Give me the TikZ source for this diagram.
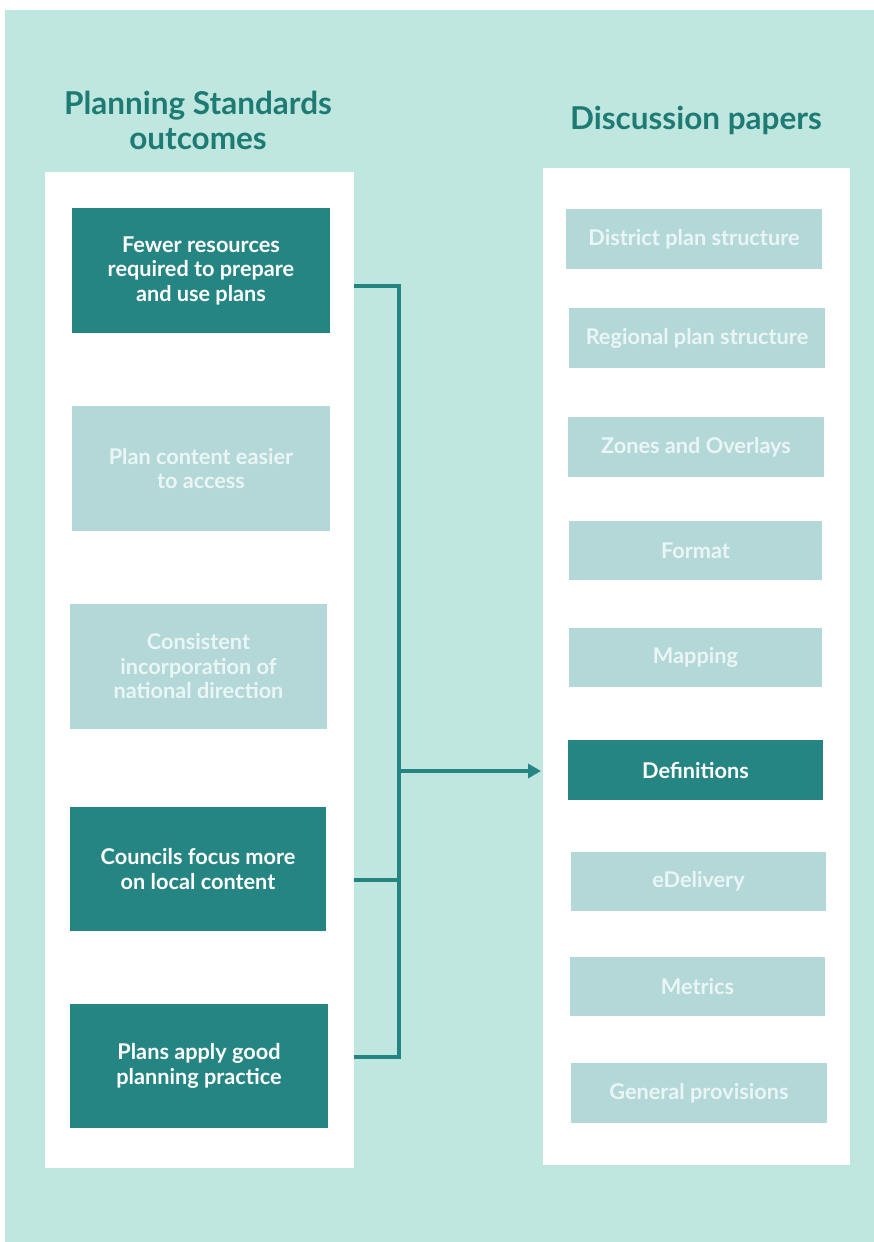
\documentclass[tikz,border=0pt]{standalone}
\usepackage{fontspec}
\setmainfont{Lato}
\usetikzlibrary{arrows.meta}
\definecolor{bgmint}{HTML}{BFE6DF}
\definecolor{darkteal}{HTML}{248583}
\definecolor{lightbox}{HTML}{B4D8D8}
\definecolor{titleteal}{HTML}{1E7B74}
\definecolor{paletext}{HTML}{EAF6F5}
\tikzset{
  panel/.style={fill=white, draw=none, inner sep=0pt},
  darkbox/.style={fill=darkteal, draw=none, inner sep=0pt, text=white, align=center,
     font=\fontsize{21.7}{24.5}\selectfont\bfseries},
  lightbox/.style={fill=lightbox, draw=none, inner sep=0pt, text=paletext, align=center,
     font=\fontsize{21.7}{24.5}\selectfont\bfseries},
  titletext/.style={text=titleteal, align=center, font=\fontsize{31.5}{35}\selectfont\bfseries, inner sep=0pt},
  conn/.style={draw=darkteal, line width=3.6pt, line join=miter},
}
\begin{document}
\begin{tikzpicture}[x=1pt,y=-1pt]
\useasboundingbox (0,0) rectangle (873,1242);
\fill[white] (-5,-5) rectangle (880,1250);
\fill[bgmint] (5,10) rectangle (880,1250);

% titles
\node[titletext] (t1) at (198,120) {Planning Standards\\outcomes};
\node[titletext] (t2) at (696,120) {Discussion papers};

% panels
\node[panel, minimum width=309, minimum height=996] (lp) at (199.5,670) {};
\node[panel, minimum width=307, minimum height=997] (rp) at (696.5,666.5) {};

% left boxes
\node[darkbox, minimum width=258, minimum height=125] (o1) at (201,270.5) {Fewer resources\\required to prepare\\and use plans};
\node[lightbox, minimum width=258, minimum height=125] (o2) at (201,468.5) {Plan content easier\\to access};
\node[lightbox, minimum width=257, minimum height=125] (o3) at (198.5,666.5) {Consistent\\incorporation of\\national direction};
\node[darkbox, minimum width=256, minimum height=124] (o4) at (198,869) {Councils focus more\\on local content};
\node[darkbox, minimum width=258, minimum height=124] (o5) at (199,1066) {Plans apply good\\planning practice};

% right boxes
\node[lightbox, minimum width=256, minimum height=60] (r1) at (694,239) {District plan structure};
\node[lightbox, minimum width=256, minimum height=60] (r2) at (697,338) {Regional plan structure};
\node[lightbox, minimum width=256, minimum height=60] (r3) at (696,447) {Zones and Overlays};
\node[lightbox, minimum width=253, minimum height=59] (r4) at (695.5,550.5) {Format};
\node[lightbox, minimum width=253, minimum height=59] (r5) at (695.5,657.5) {Mapping};
\node[darkbox, minimum width=255, minimum height=60] (r6) at (695.5,770) {Definitions};
\node[lightbox, minimum width=255, minimum height=59] (r7) at (698.5,881.5) {eDelivery};
\node[lightbox, minimum width=255, minimum height=59] (r8) at (697.5,986.5) {Metrics};
\node[lightbox, minimum width=256, minimum height=60] (r9) at (699,1093) {General provisions};

% connectors
\coordinate (b1) at (354,286);
\coordinate (b4) at (354,880);
\coordinate (b5) at (354,1057);
\coordinate (jt) at (399,286);
\coordinate (jb) at (399,1057);
\coordinate (jm) at (399,771);
\coordinate (tip) at (541,771);
\draw[conn] (b1) -- (jt) -- (jb) -- (b5);
\draw[conn] (b4) -- (b4 -| jt);
\draw[conn, -{Triangle[length=13pt,width=14pt]}] (jm) -- (tip);
\end{tikzpicture}
\end{document}
